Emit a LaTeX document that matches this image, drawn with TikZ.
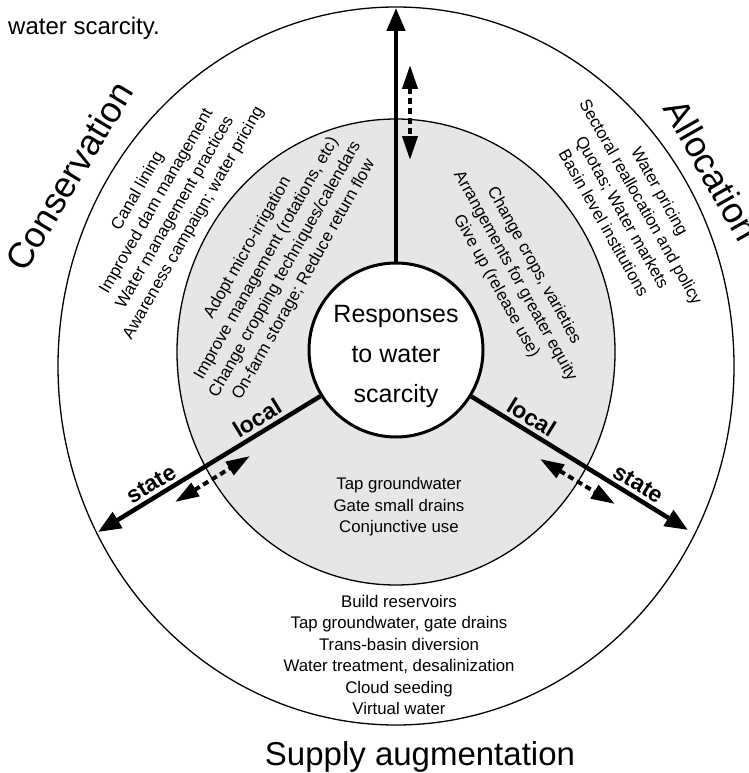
\documentclass[tikz,border=0pt]{standalone}
\usepackage{fontspec}
\setmainfont{Liberation Sans}
\usetikzlibrary{arrows.meta}
\definecolor{ringgray}{RGB}{229,230,232}
\tikzset{
    ring/.style  = {line width=1.3pt},
    hub/.style   = {circle, draw, line width=3pt, fill=white, minimum size=174pt, inner sep=0pt},
    items/.style = {align=center, font=\fontsize{16.8}{21.5}\selectfont},
    big/.style   = {font=\fontsize{36}{40}\selectfont},
    spoke/.style = {line width=4.5pt, -{Triangle[length=23pt,width=18pt]}},
    swap/.style  = {line width=4pt, dash pattern=on 6pt off 4pt,
                    {Triangle[length=24pt,width=15pt]}-{Triangle[length=24pt,width=15pt]}},
    level/.style = {font=\fontsize{23}{25}\selectfont\bfseries, above, sloped}
}

\begin{document}
\begin{tikzpicture}[x=1pt, y=-1pt]
    \useasboundingbox (0,0) rectangle (748,773);
    % rings
    \draw[ring] (396,366) ellipse [x radius=338pt, y radius=359pt];
    \filldraw[ring, fill=ringgray] (396,352) ellipse [x radius=219pt, y radius=233pt];
    \node[hub] (core) at (396,350) {};
    \node[align=center, font=\fontsize{25}{40}\selectfont] (coretext) at (396,356) {Responses\\to water\\scarcity};

    % spokes
    \coordinate (north) at (396,8);
    \coordinate (west)  at (98,532);
    \coordinate (east)  at (688,530);
    \draw[spoke] (core) -- (north);
    \draw[spoke] (core) -- node[level, pos=0.25] (wlocal) {local} node[level, pos=0.73] (wstate) {state} (west);
    \draw[spoke] (core) -- node[level, pos=0.245] (elocal) {local} node[level, pos=0.74] (estate) {state} (east);

    % two-way exchanges across the ring
    \coordinate (na) at (410,65);  \coordinate (nb) at (410,160);
    \coordinate (wa) at (175,502); \coordinate (wb) at (250,456);
    \coordinate (ea) at (540,459); \coordinate (eb) at (615,504);
    \draw[swap] (na) -- (nb);
    \draw[swap] (wa) -- (wb);
    \draw[swap] (ea) -- (eb);

    % responses
    \node[items, rotate=60] (consitems) at (166,207) {Canal lining\\Improved dam management\\Water management practices\\Awareness campaign; water pricing};
    \node[items, rotate=60.5] (farmitems) at (276,264) {Adopt micro-irrigation\\Improve management (rotations, etc)\\Change cropping techniques/calendars\\On-farm storage; Reduce return flow};
    \node[items, rotate=-60.5] (allocitems) at (632,207) {Water pricing\\Sectoral reallocation and policy\\Quotas; Water markets\\Basin level institutions};
    \node[items, rotate=-61] (cropitems) at (515,276) {Change crops, varieties\\Arrangements for greater equity\\Give up (release use)};
    \node[items] (gwitems) at (399,507) {Tap groundwater\\Gate small drains\\Conjunctive use};
    \node[items] (supitems) at (399,655) {Build reservoirs\\Tap groundwater, gate drains\\Trans-basin diversion\\Water treatment, desalinization\\Cloud seeding\\Virtual water};

    % headings
    \node[big, rotate=59] (cons) at (69,176) {Conservation};
    \node[big, rotate=-60.5] (alloc) at (712,170) {Allocation};
    \node[font=\fontsize{33}{36}\selectfont, anchor=base] (supply) at (420,765) {Supply augmentation};
    \node[font=\fontsize{24}{28}\selectfont, anchor=base west, inner sep=0pt] (caption) at (8,35) {water scarcity.};
\end{tikzpicture}
\end{document}
